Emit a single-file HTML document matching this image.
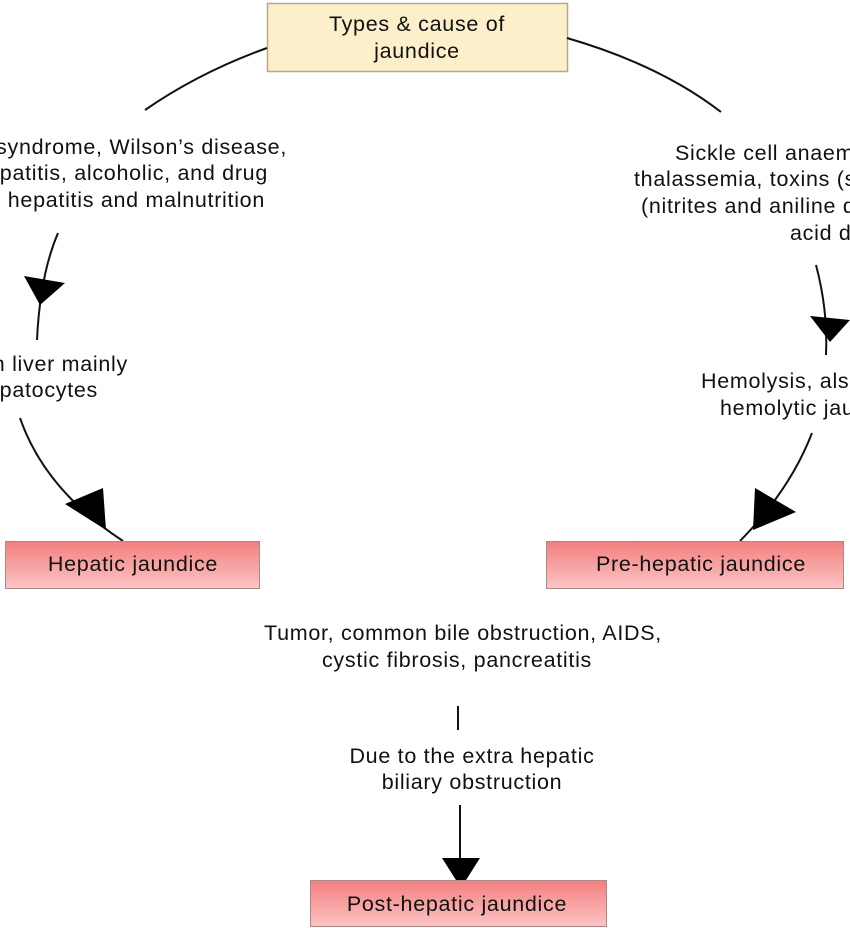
<!DOCTYPE html>
<html><head><meta charset="utf-8"><style>
html,body{margin:0;padding:0;background:#fff;}
svg{display:block;}
text{font-family:"Liberation Sans",sans-serif;font-size:21.5px;letter-spacing:0.7px;fill:#111;}
</style></head><body>
<svg width="850" height="928" viewBox="0 0 850 928" xmlns="http://www.w3.org/2000/svg">
<defs>
<linearGradient id="pk" x1="0" y1="0" x2="0" y2="1">
<stop offset="0" stop-color="#f37f7f"/><stop offset="1" stop-color="#fcc4c4"/>
</linearGradient>
</defs>
<rect x="267.5" y="3.5" width="300" height="68" fill="#fdefc9" stroke="#b5a986" stroke-width="1.5"/>
<text x="417" y="31" text-anchor="middle">Types &amp; cause of</text>
<text x="417" y="58" text-anchor="middle">jaundice</text>

<g fill="none" stroke="#111" stroke-width="2">
<path d="M145,110 Q200,72 267,48"/>
<path d="M567,38 Q660,65 721,112"/>
<path d="M58,233 Q40,275 37,340"/>
<path d="M20,418 Q45,490 123,541"/>
<path d="M816,265 Q828,310 826,355"/>
<path d="M812,433 Q790,490 740,541"/>
<path d="M458,706 L458,730"/>
<path d="M460,805 L460,870"/>
</g>
<g fill="#000">
<polygon points="24,276 65,283 40,305"/>
<polygon points="65,504 103,488 106,530"/>
<polygon points="810,316 850,320 830,342"/>
<polygon points="755,488 796,512 753,530"/>
<polygon points="442,858 480,858 461,888"/>
</g>

<text x="287" y="154" text-anchor="end">syndrome, Wilson’s disease,</text>
<text x="268" y="180" text-anchor="end">hepatitis, alcoholic, and drug</text>
<text x="265" y="207" text-anchor="end">d hepatitis and malnutrition</text>
<text x="128" y="371" text-anchor="end">n liver mainly</text>
<text x="98" y="397" text-anchor="end">patocytes</text>

<text x="675" y="160">Sickle cell anaemia,</text>
<text x="634" y="186">thalassemia, toxins (snake</text>
<text x="641" y="213">(nitrites and aniline dyes)</text>
<text x="790" y="240">acid def</text>
<text x="701" y="388">Hemolysis, also</text>
<text x="720" y="415">hemolytic jaundice</text>

<rect x="5.5" y="541.5" width="254" height="47" fill="url(#pk)" stroke="#a88" stroke-width="1"/>
<text x="133" y="571" text-anchor="middle">Hepatic jaundice</text>
<rect x="546.5" y="541.5" width="297" height="47" fill="url(#pk)" stroke="#a88" stroke-width="1"/>
<text x="701" y="571" text-anchor="middle">Pre-hepatic jaundice</text>

<text x="463" y="640" text-anchor="middle">Tumor, common bile obstruction, AIDS,</text>
<text x="457" y="667" text-anchor="middle">cystic fibrosis, pancreatitis</text>
<text x="472" y="763" text-anchor="middle">Due to the extra hepatic</text>
<text x="472" y="789" text-anchor="middle">biliary obstruction</text>

<rect x="310.5" y="880.5" width="296" height="46" fill="url(#pk)" stroke="#a88" stroke-width="1"/>
<text x="457" y="911" text-anchor="middle">Post-hepatic jaundice</text>
</svg>
</body></html>
